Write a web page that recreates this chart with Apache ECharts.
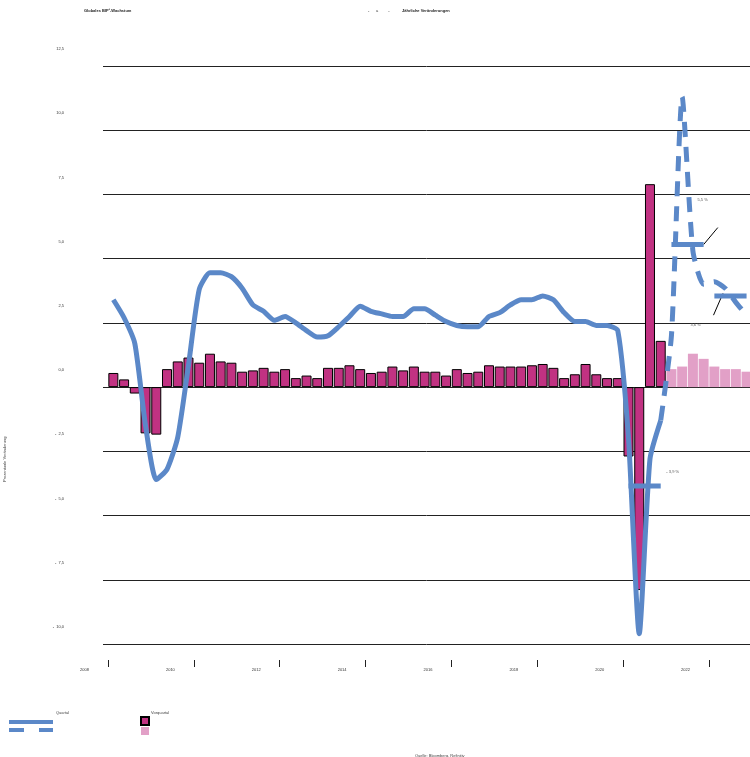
<!DOCTYPE html>
<html>
<head>
<meta charset="utf-8">
<script src="https://cdn.jsdelivr.net/npm/echarts@6/dist/echarts.min.js"></script>
<style>
  html, body { margin: 0; padding: 0; background: #fff; }
  #chart { width: 750px; height: 757px; }
</style>
</head>
<body>
<div id="chart"></div>
<script>
// Quartale ab 2008 Q1
var startYear = 2008;
var tickYears = [2008, 2010, 2012, 2014, 2016, 2018, 2020, 2022];

// Wachstum ggü. Vorquartal (Balken), 2008 Q1 - 2020 Q4
var qoqGrowth = [0.55, 0.3, -0.25, -1.8, -1.85, 0.7, 1.0, 1.15,
  0.95, 1.3, 1.0, 0.95, 0.6, 0.65, 0.75, 0.6,
  0.7, 0.35, 0.45, 0.35, 0.75, 0.75, 0.85, 0.7,
  0.55, 0.6, 0.8, 0.65, 0.8, 0.6, 0.6, 0.45,
  0.7, 0.55, 0.6, 0.85, 0.8, 0.8, 0.8, 0.85,
  0.9, 0.75, 0.35, 0.5, 0.9, 0.5, 0.35, 0.35,
  -2.7, -7.9, 7.9, 1.8];
// Prognose 2021 Q1 - 2022 Q4
var qoqForecast = [0.7, 0.8, 1.3, 1.1, 0.8, 0.7, 0.7, 0.6];

// Wachstum ggü. Vorjahresquartal (Linie)
var yoyGrowth = [3.4, 2.7, 1.7, -1.5, -3.6, -3.2, -1.95, 0.85,
  3.8, 4.45, 4.45, 4.3, 3.85, 3.2, 2.95, 2.6,
  2.75, 2.5, 2.2, 1.95, 2.0, 2.35, 2.75, 3.15,
  2.95, 2.85, 2.75, 2.75, 3.05, 3.05, 2.8, 2.55,
  2.4, 2.35, 2.35, 2.75, 2.9, 3.2, 3.4, 3.4,
  3.55, 3.4, 2.9, 2.55, 2.55, 2.4, 2.4, 2.2,
  -2.0, -9.6, -2.8, -1.3];
var yoyForecast = [2.0, 11.3, 5.3, 4.0, 4.1, 3.85, 3.3, 2.8];

// Jahresdurchschnitte
var annualYears = [2020, 2021, 2022];
var annualGrowth = [-3.85, 5.55, 3.55];
var annualLabels = ['- 3,9 %', '5,5 %', '3,6 %'];

var blue = '#5b88c8';
var magenta = '#c13282';
var pink = '#e2a0c7';
var tiny = 4;

function qx(i) { return startYear + (i + 0.5) / 4; }

var barData = qoqGrowth.map(function (v, i) { return [qx(i), v]; });
var barFc = qoqForecast.map(function (v, i) { return [qx(qoqGrowth.length + i), v]; });
var lineData = yoyGrowth.map(function (v, i) { return [qx(i), v]; });
var last = yoyGrowth.length - 1;
var lineFc = [[qx(last), yoyGrowth[last]]].concat(
  yoyForecast.map(function (v, i) { return [qx(yoyGrowth.length + i), v]; }));

var labelOffsets = [[12, -6], [-1, -37], [-51, 37]];
var leaders = [null, [[0, 0], [0.33, 0.66]], [[-0.55, 0.1], [-0.77, -0.75]]];

var annualSeries = annualYears.map(function (yr, k) {
  var v = annualGrowth[k];
  var s = {
    type: 'line',
    z: 6,
    symbol: 'circle',
    symbolSize: 2,
    showSymbol: true,
    itemStyle: { color: 'transparent', borderWidth: 0 },
    silent: true,
    lineStyle: { color: blue, width: 5 },
    labelLayout: { hideOverlap: false, dx: labelOffsets[k][0], dy: labelOffsets[k][1] },
    data: [[yr + 0.125, v], {
      value: [yr + 0.875, v],
      label: {
        show: true,
        formatter: annualLabels[k],
        fontSize: tiny,
        color: '#555',
        position: 'top'
      }
    }]
  };
  if (leaders[k]) {
    var a = leaders[k][0], b = leaders[k][1];
    s.markLine = {
      silent: true,
      symbol: 'none',
      label: { show: false },
      lineStyle: { color: '#000', width: 1, type: 'solid' },
      data: [[{ coord: [yr + 0.875 + a[0], v + a[1]] },
              { coord: [yr + 0.875 + b[0], v + b[1]] }]]
    };
  }
  return s;
});

var chart = echarts.init(document.getElementById('chart'));
chart.setOption({
  animation: false,
  grid: { left: 103, right: 0, top: 66, bottom: 113 },
  xAxis: {
    type: 'value',
    min: 2007.884,
    max: 2022.955,
    offset: 16,
    axisLine: { show: false, onZero: false },
    axisTick: {
      show: true,
      customValues: tickYears,
      length: 7,
      lineStyle: { color: '#222' }
    },
    axisLabel: {
      customValues: tickYears,
      fontSize: tiny,
      color: '#333',
      align: 'right',
      padding: [0, 19, 0, 0],
      margin: 8,
      formatter: function (v) { return String(v); }
    },
    splitLine: { show: false }
  },
  yAxis: {
    type: 'value',
    min: -10,
    max: 12.5,
    interval: 2.5,
    axisLine: { show: false },
    axisTick: { show: false },
    axisLabel: {
      fontSize: tiny,
      color: '#333',
      margin: 39,
      verticalAlign: 'bottom',
      padding: [0, 0, 15, 0],
      formatter: function (v) {
        var s = Math.abs(v).toFixed(1).replace('.', ',');
        return v < 0 ? '-  ' + s : s;
      }
    },
    splitLine: { lineStyle: { color: '#222', width: 1 } }
  },
  series: [
    {
      type: 'bar',
      barWidth: 10,
      barGap: '-100%',
      itemStyle: { color: magenta, borderColor: '#000', borderWidth: 1 },
      data: barData
    },
    {
      type: 'bar',
      barWidth: 10,
      barGap: '-100%',
      itemStyle: { color: pink },
      data: barFc
    },
    {
      type: 'line',
      z: 5,
      symbol: 'none',
      smooth: 0.2,
      lineStyle: { color: blue, width: 5 },
      data: lineData
    },
    {
      type: 'line',
      z: 5,
      symbol: 'none',
      smooth: 0.2,
      lineStyle: { color: blue, width: 5, type: [15, 10] },
      data: lineFc
    }
  ].concat(annualSeries),
  graphic: [
    { type: 'text', left: 84, top: 9, style: { text: 'Globales BIP¹-Wachstum', fontSize: tiny, fontWeight: 'bold', fill: '#222' } },
    { type: 'text', left: 368, top: 9, style: { text: '-      a         -', fontSize: tiny, fill: '#444' } },
    { type: 'text', left: 402, top: 9, style: { text: 'Jährliche Veränderungen', fontSize: tiny, fontWeight: 'bold', fill: '#222' } },
    { type: 'text', x: 3, y: 482, rotation: Math.PI / 2, style: { text: 'Prozentuale Veränderung', fontSize: tiny, fill: '#444' } },
    // Legende
    { type: 'text', left: 56, top: 711, style: { text: 'Quartal', fontSize: tiny, fill: '#444' } },
    { type: 'rect', shape: { x: 9, y: 720, width: 44, height: 4 }, style: { fill: blue } },
    { type: 'rect', shape: { x: 9, y: 728, width: 15, height: 4 }, style: { fill: blue } },
    { type: 'rect', shape: { x: 39, y: 728, width: 14, height: 4 }, style: { fill: blue } },
    { type: 'text', left: 151, top: 711, style: { text: 'Vorquartal', fontSize: tiny, fill: '#444' } },
    { type: 'rect', shape: { x: 141, y: 717, width: 8, height: 8 }, style: { fill: magenta, stroke: '#000', lineWidth: 2 } },
    { type: 'rect', shape: { x: 141, y: 727, width: 8, height: 8 }, style: { fill: pink } },
    { type: 'text', left: 415, top: 754, style: { text: 'Quelle: Bloomberg, Refinitiv', fontSize: tiny, fill: '#444' } }
  ]
});
</script>
</body>
</html>
